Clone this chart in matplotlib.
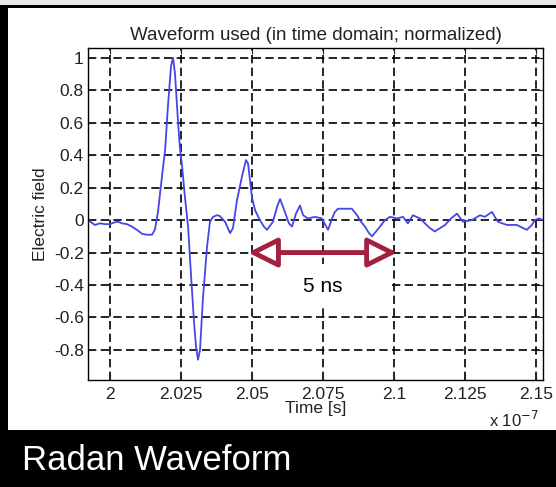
import matplotlib
matplotlib.use("Agg")
import matplotlib.pyplot as plt
from matplotlib.patches import Rectangle
import numpy as np

# time in units of 1e-7 s, normalized field
t = [1.9930, 1.9947, 1.9965, 1.9982, 2.0000, 2.0014, 2.0028, 2.0042, 2.0060, 2.0077,
     2.0095, 2.0113, 2.0130, 2.0148, 2.0158, 2.0169, 2.0176, 2.0187, 2.0194, 2.0204,
     2.0215, 2.0222, 2.0229, 2.0239, 2.0246, 2.0254, 2.0264, 2.0275, 2.0285, 2.0296,
     2.0303, 2.0310, 2.0317, 2.0327, 2.0342, 2.0352, 2.0363, 2.0377, 2.0387, 2.0405,
     2.0423, 2.0433, 2.0447, 2.0465, 2.0479, 2.0486, 2.0500, 2.0511, 2.0528, 2.0542,
     2.0553, 2.0574, 2.0588, 2.0599, 2.0616, 2.0630, 2.0641, 2.0655, 2.0669, 2.0680,
     2.0697, 2.0722, 2.0746, 2.0768, 2.0782, 2.0792, 2.0803, 2.0827, 2.0852, 2.0870,
     2.0884, 2.0898, 2.0912, 2.0923, 2.0937, 2.0951, 2.0968, 2.0986, 2.1011, 2.1032,
     2.1049, 2.1067, 2.1092, 2.1109, 2.1127, 2.1144, 2.1180, 2.1201, 2.1222, 2.1243,
     2.1275, 2.1303, 2.1320, 2.1345, 2.1366, 2.1398, 2.1433, 2.1468, 2.1486, 2.1496,
     2.1511, 2.1525]
field = [-0.01, -0.03, -0.02, -0.025, -0.025, -0.015, -0.01, -0.02, -0.025, -0.04,
         -0.06, -0.085, -0.09, -0.09, -0.06, 0.05, 0.16, 0.33, 0.43, 0.70,
         0.95, 1.00, 0.90, 0.62, 0.45, 0.33, 0.14, -0.04, -0.33, -0.63,
         -0.78, -0.86, -0.80, -0.49, -0.16, -0.01, 0.02, 0.03, 0.025, -0.01,
         -0.08, -0.05, 0.12, 0.27, 0.37, 0.35, 0.14, 0.06, 0.0, -0.04,
         -0.06, -0.01, 0.08, 0.13, 0.05, -0.02, -0.04, 0.04, 0.09, 0.03,
         0.01, 0.02, 0.01, -0.06, 0.01, 0.05, 0.07, 0.07, 0.07, 0.03,
         -0.01, -0.04, -0.08, -0.10, -0.07, -0.04, 0.0, 0.02, 0.01, 0.02,
         -0.02, 0.03, 0.01, -0.02, -0.05, -0.07, -0.03, 0.01, 0.04, -0.01,
         0.00, 0.03, 0.02, 0.05, -0.01, -0.03, -0.03, -0.06, -0.03, 0.0,
         0.01, 0.0]

xticks = [2.0, 2.025, 2.05, 2.075, 2.1, 2.125, 2.15]
xticklabels = ["2", "2.025", "2.05", "2.075", "2.1", "2.125", "2.15"]
yticks = [-0.8, -0.6, -0.4, -0.2, 0, 0.2, 0.4, 0.6, 0.8, 1]
yticklabels = ["-0.8", "-0.6", "-0.4", "-0.2", "0", "0.2", "0.4", "0.6", "0.8", "1"]

arrow_start, arrow_end, arrow_y = 2.0486, 2.1011, -0.2

plt.rcParams['font.family'] = ['Liberation Sans', 'DejaVu Sans']

W, H = 556, 487
fig = plt.figure(figsize=(W/100, H/100), dpi=100, facecolor='black')
# white panel
fig.patches.append(Rectangle((8/W, 57/H), 1 - 8/W, (430-8)/H, transform=fig.transFigure,
                             facecolor='white', edgecolor='none', zorder=-10))
fig.patches.append(Rectangle((0, 1 - 5/H), 1, 5/H, transform=fig.transFigure,
                             facecolor='#e8e8e8', edgecolor='none', zorder=-10))

ax = fig.add_axes([88/W, (H-380)/H, 455/W, 332/H])
ax.set_facecolor('white')
ax.plot(t, field, color='#4646e6', lw=1.3, zorder=3)
ax.set_xlim(1.99225, 2.1525)
ax.set_ylim(-0.985, 1.06)
ax.set_xticks(xticks)
ax.set_xticklabels(xticklabels)
ax.set_yticks(yticks)
ax.set_yticklabels(yticklabels)
ax.tick_params(direction='in', length=4, top=True, right=True, labelsize=12.5,
               colors='#222222', width=0.8)
ax.tick_params(axis='x', pad=5)
ax.tick_params(axis='y', pad=3)
ax.grid(True, color='black', linestyle=(0, (5, 2.6)), linewidth=1.2, zorder=1)
ax.set_axisbelow(True)
for s in ax.spines.values():
    s.set_linewidth(1.0)

ax.set_title("Waveform used (in time domain; normalized)", fontsize=13.5, pad=6,
             color='#222222')
ax.set_ylabel("Electric field", fontsize=12.5, labelpad=4, color='#222222')
ax.set_xlabel("Time [s]", fontsize=12.5, labelpad=-1, color='#222222')
ax.text(0.99, -0.09, r"x 10$^{-7}$", transform=ax.transAxes, ha='right', va='top',
        fontsize=12, color='#222222')

# white box behind label
ax.add_patch(Rectangle((2.0505, -0.53), 2.0985 - 2.0505, 0.26, facecolor='white',
                       edgecolor='none', zorder=2))
ax.text(2.075, -0.41, "5 ns", ha='center', va='center', fontsize=15, zorder=4)
ax.annotate("", xy=(arrow_start, arrow_y), xytext=(arrow_end, arrow_y),
            arrowprops=dict(arrowstyle='<|-|>,head_length=0.9,head_width=0.45',
                            fc='white', ec='#a3203f', lw=3.5, shrinkA=0, shrinkB=0,
                            mutation_scale=20), zorder=5)

fig.text(22/W, 1 - 461/H, "Radan Waveform", color='white', fontsize=25, ha='left',
         va='center')

fig.savefig("out.png", dpi=100, facecolor=fig.get_facecolor())
